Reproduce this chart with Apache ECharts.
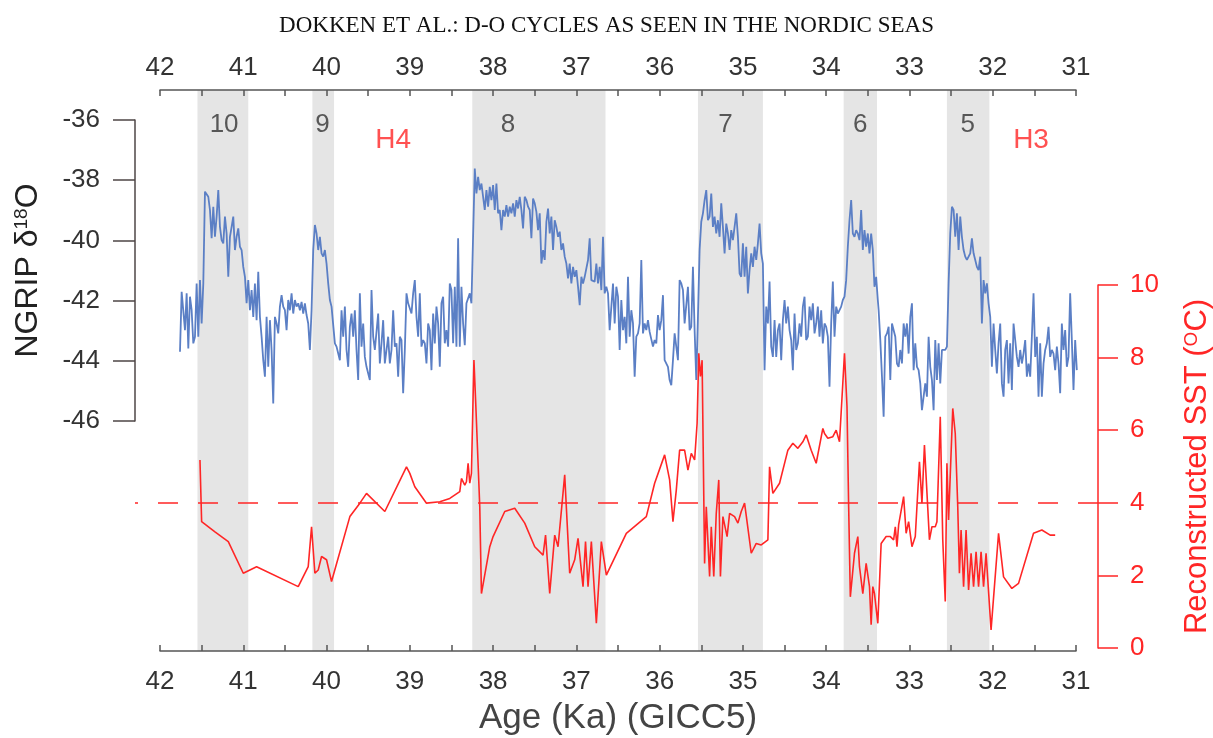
<!DOCTYPE html>
<html>
<head>
<meta charset="utf-8">
<script src="https://cdn.jsdelivr.net/npm/echarts@6/dist/echarts.min.js"></script>
<style>
  html, body { margin: 0; padding: 0; background: #fff; }
  #chart { width: 1213px; height: 738px; }
</style>
</head>
<body>
<div id="chart"></div>
<script>
// NGRIP d18O (age in ka, GICC5)
const ngripAge = [
  41.76,41.74,41.72,41.70,41.68,41.66,41.64,41.62,41.60,41.58,
  41.56,41.54,41.52,41.50,41.48,41.46,41.44,41.42,41.40,41.38,
  41.36,41.34,41.32,41.30,41.28,41.26,41.24,41.22,41.20,41.18,
  41.16,41.14,41.12,41.10,41.08,41.06,41.04,41.02,41.00,40.98,
  40.96,40.94,40.92,40.90,40.88,40.86,40.84,40.82,40.80,40.78,
  40.76,40.74,40.72,40.70,40.68,40.66,40.64,40.62,40.60,40.58,
  40.56,40.54,40.52,40.50,40.48,40.46,40.44,40.42,40.40,40.38,
  40.36,40.34,40.32,40.30,40.28,40.26,40.24,40.22,40.20,40.18,
  40.16,40.14,40.12,40.10,40.08,40.06,40.04,40.02,40.00,39.98,
  39.96,39.94,39.92,39.90,39.88,39.86,39.84,39.82,39.80,39.78,
  39.76,39.74,39.72,39.70,39.68,39.66,39.64,39.62,39.60,39.58,
  39.56,39.54,39.52,39.50,39.48,39.46,39.44,39.42,39.40,39.38,
  39.36,39.34,39.32,39.30,39.28,39.26,39.24,39.22,39.20,39.18,
  39.16,39.14,39.12,39.10,39.08,39.06,39.04,39.02,
  38.98,38.96,38.94,38.92,38.90,38.88,38.86,38.84,38.82,38.80,
  38.78,38.76,38.74,38.72,38.70,38.68,38.66,38.64,38.62,38.60,
  38.58,38.56,38.54,38.52,38.50,38.48,38.46,38.44,38.42,38.40,
  38.38,38.36,38.34,38.32,38.30,38.28,38.26,38.24,38.22,38.20,
  38.18,38.16,38.14,38.12,38.10,38.08,38.06,38.04,38.02,38.00,
  37.98,37.96,37.94,37.92,37.90,37.88,37.86,37.84,37.82,37.80,
  37.78,37.76,37.74,37.72,37.70,37.68,37.66,37.64,37.62,37.60,
  37.58,37.56,37.54,37.52,37.50,37.48,37.46,37.44,37.42,37.40,
  37.38,37.36,37.34,37.32,37.30,37.28,37.26,37.24,37.22,37.20,
  37.18,37.16,37.14,37.12,37.10,37.08,37.06,37.04,37.02,37.00,
  36.98,36.96,36.94,36.92,36.90,36.88,36.86,36.84,36.82,36.80,
  36.78,36.76,36.74,36.72,36.70,36.68,36.66,36.64,36.62,36.60,
  36.58,36.56,36.54,36.52,36.50,36.48,36.46,36.44,36.42,36.40,
  36.38,36.36,36.34,36.32,36.30,36.28,36.26,36.24,36.22,36.20,
  36.18,36.16,36.14,
  36.12,36.10,36.08,36.06,36.04,36.02,36.00,35.98,35.96,35.94,
  35.92,35.90,35.88,35.86,35.84,35.82,35.80,35.78,35.76,35.74,
  35.72,35.70,35.68,35.66,35.64,35.62,35.60,35.58,35.56,35.54,
  35.52,35.50,35.48,35.46,35.44,35.42,35.40,35.38,35.36,35.34,
  35.32,35.30,35.28,35.26,35.24,35.22,35.20,35.18,35.16,35.14,
  35.12,35.10,35.08,35.06,35.04,35.02,35.00,34.98,34.96,34.94,
  34.92,34.90,34.88,34.86,34.84,34.82,34.80,34.78,34.76,34.74,
  34.72,34.70,34.68,34.66,34.64,34.62,34.60,34.58,34.56,34.54,
  34.52,34.50,34.48,34.46,34.44,34.42,34.40,34.38,34.36,34.34,
  34.32,34.30,34.28,34.26,34.24,34.22,34.20,34.18,34.16,34.14,
  34.12,34.10,34.08,34.06,34.04,34.02,34.00,33.98,33.96,33.94,
  33.92,33.90,33.88,33.86,33.84,33.82,33.80,33.78,33.76,33.74,
  33.72,33.70,33.68,33.66,33.64,33.62,33.60,33.58,33.56,33.54,
  33.52,33.50,33.48,33.46,33.44,33.42,33.40,33.38,
  33.37,33.35,33.33,33.31,33.29,33.27,33.25,33.23,33.21,33.19,
  33.17,33.15,33.13,33.11,33.09,33.07,33.05,33.03,33.01,32.99,
  32.97,32.95,32.93,32.91,32.89,32.87,32.85,32.83,32.81,32.79,
  32.77,32.75,32.73,32.71,32.69,32.67,32.65,32.63,32.61,32.59,
  32.57,32.55,32.53,32.51,32.49,32.47,32.45,32.43,32.41,32.39,
  32.37,32.35,32.33,32.31,32.29,32.27,32.25,32.23,32.21,32.19,
  32.17,32.15,32.13,32.11,32.09,32.07,32.05,32.03,32.01,31.99,
  31.97,31.95,31.93,31.91,31.89,31.87,31.85,31.83,31.81,31.79,
  31.77,31.75,31.73,31.71,31.69,31.67,31.65,31.63,31.61,31.59,
  31.57,31.55,31.53,31.51,31.49,31.47,31.45,31.43,31.41,31.39,
  31.37,31.35,31.33,31.31,31.29,31.27,31.25,31.23,31.21,31.19,
  31.17,31.15,31.13,31.11,31.09,31.07,31.05,31.03,31.01,30.99
];
const ngripD18O = [
  -43.70,-41.71,-41.71,-42.98,-41.76,-43.59,-41.87,-42.32,-43.42,-43.20,
  -41.43,-43.20,-41.32,-42.76,-41.43,-38.38,-38.44,-38.55,-38.99,-39.93,
  -38.88,-39.88,-39.21,-38.33,-39.55,-39.99,-40.10,-39.21,-39.77,-41.21,
  -39.88,-39.55,-39.21,-40.32,-39.88,-39.60,-40.21,-40.32,-40.88,-41.21,
  -42.09,-41.32,-42.32,-41.65,-42.54,-41.43,-42.65,-41.04,-42.54,-43.20,
  -43.98,-44.53,-42.54,-44.20,-42.65,-43.64,-45.42,-42.54,-42.76,-43.09,
  -42.20,-41.82,-42.20,-42.32,-42.98,-41.98,-42.32,-41.76,-42.43,-41.98,
  -42.20,-42.09,-42.32,-42.04,-42.43,-42.09,-42.48,-42.76,-43.64,-42.32,
  -40.32,-39.49,-39.77,-40.32,-39.88,-40.43,-40.54,-40.32,-40.77,-41.43,
  -41.98,-42.20,-42.20,-43.42,-43.53,-43.53,-43.98,-42.32,-43.20,-42.20,
  -43.64,-44.20,-42.87,-42.43,-43.20,-42.32,-43.64,-44.64,-41.76,-43.53,
  -42.76,-43.87,-44.20,-44.20,-44.64,-41.65,-43.20,-43.64,-43.64,-42.43,
  -44.09,-43.42,-42.65,-44.09,-44.14,-43.20,-44.09,-43.64,-42.32,-43.53,
  -43.42,-44.53,-43.20,-43.31,-45.08,-43.64,-41.76,-42.09,
  -42.43,-41.76,-41.32,-42.54,-43.20,-41.76,-43.53,-43.31,-43.42,-44.09,
  -42.76,-42.98,-44.31,-42.43,-43.42,-42.20,-42.76,-44.20,-42.09,-41.87,
  -43.42,-42.98,-43.53,-41.43,-41.65,-43.42,-41.54,-43.53,-39.93,-43.53,
  -41.54,-42.76,-43.48,-42.09,-42.09,-41.76,-42.09,-42.09,-37.61,-38.44,
  -37.89,-38.33,-38.11,-38.55,-38.99,-38.33,-38.88,-38.22,-38.66,-38.16,
  -38.99,-38.11,-39.10,-38.99,-39.66,-38.99,-39.21,-38.83,-39.21,-38.88,
  -39.10,-38.77,-39.21,-38.66,-38.94,-38.55,-38.99,-39.60,-38.55,-38.66,
  -38.88,-38.99,-39.93,-38.61,-38.77,-39.05,-39.66,-39.10,-40.77,-40.32,
  -40.65,-39.38,-38.94,-39.77,-39.21,-40.32,-39.33,-39.55,-39.88,-39.71,
  -40.32,-40.10,-40.54,-40.77,-41.26,-40.77,-41.43,-40.88,-41.21,-40.99,
  -41.54,-42.15,-41.21,-41.43,-41.21,-41.21,-40.65,-39.93,-41.32,-41.32,
  -41.37,-40.77,-41.43,-40.88,-41.65,-39.88,-41.76,-41.54,-41.76,-42.98,
  -43.04,-41.43,-42.76,-41.54,-41.87,-43.64,-41.98,-42.98,-42.54,-43.42,
  -41.21,-43.20,-42.32,-42.76,-44.53,-43.20,-43.09,-42.76,-40.65,-43.09,
  -42.76,-42.98,-42.65,
  -43.04,-43.09,-43.53,-43.31,-43.42,-42.48,-42.98,-42.65,-41.82,-43.98,
  -43.98,-44.20,-44.64,-44.81,-43.98,-43.09,-43.04,-43.98,-41.32,-41.43,
  -41.65,-42.76,-42.76,-41.54,-42.98,-42.87,-40.88,-42.98,-44.64,-42.54,
  -40.32,-39.38,-39.10,-38.66,-38.33,-39.33,-39.21,-38.44,-39.55,-39.21,
  -39.77,-39.33,-39.88,-38.77,-39.55,-40.43,-39.44,-39.77,-40.32,-39.66,
  -39.99,-39.55,-39.10,-39.88,-41.10,-41.21,-40.10,-41.21,-40.21,-41.76,
  -40.99,-40.43,-40.88,-40.21,-40.65,-40.10,-39.44,-40.43,-40.77,-44.31,
  -42.20,-42.76,-41.37,-43.53,-43.87,-42.65,-43.87,-42.98,-42.76,-43.98,
  -42.65,-41.98,-42.76,-42.20,-42.98,-43.31,-44.31,-42.43,-43.64,-43.42,
  -42.76,-43.20,-42.20,-41.87,-43.31,-43.20,-42.20,-42.65,-42.09,-43.09,
  -42.76,-42.20,-43.20,-42.32,-43.42,-42.76,-42.87,-43.20,-44.86,-42.76,
  -41.37,-43.20,-42.20,-42.43,-42.37,-42.20,-41.98,-41.87,-41.32,-40.21,
  -39.33,-38.66,-39.77,-39.88,-39.66,-39.77,-39.99,-38.99,-40.32,-39.66,
  -40.21,-39.77,-40.43,-39.77,-40.32,-41.54,-41.21,-41.98,
  -42.32,-43.31,-44.53,-45.86,-43.20,-43.09,-42.87,-44.64,-42.76,-42.70,
  -43.20,-44.09,-44.20,-43.64,-44.09,-42.76,-43.20,-42.76,-43.76,-42.54,
  -42.09,-44.31,-43.42,-44.20,-44.31,-44.75,-45.64,-45.19,-44.75,-45.19,
  -43.20,-44.20,-44.64,-45.64,-43.31,-44.64,-43.42,-44.75,-43.64,-43.64,
  -43.64,-43.53,-41.43,-39.77,-38.88,-38.99,-39.88,-39.10,-40.32,-39.21,
  -39.88,-40.32,-40.54,-40.65,-40.54,-40.43,-39.93,-40.43,-40.65,-40.88,
  -40.99,-40.54,-42.76,-41.32,-41.76,-41.43,-42.09,-42.54,-44.20,-42.76,
  -43.64,-44.42,-43.42,-42.76,-44.75,-45.19,-43.64,-43.31,-44.75,-43.42,
  -44.97,-42.76,-43.31,-43.87,-44.20,-43.64,-44.09,-43.76,-43.31,-44.53,
  -44.09,-44.53,-43.20,-41.76,-43.87,-43.20,-45.19,-43.42,-45.19,-44.09,
  -43.64,-43.42,-42.87,-43.87,-43.64,-43.76,-44.31,-43.53,-44.09,-45.08,
  -42.76,-43.64,-42.98,-44.20,-43.87,-41.76,-43.31,-44.97,-43.31,-44.31
];

// Reconstructed SST (degC)
const sstAge = [
  41.52,41.50,41.34,41.18,41.00,40.84,40.34,40.22,40.18,40.14,
  40.10,40.06,40.00,39.94,39.72,39.60,39.52,39.30,39.04,39.00,
  38.94,38.80,38.64,38.52,38.40,38.38,38.34,38.32,38.30,38.28,
  38.26,38.24,38.23,38.21,38.16,38.14,38.04,38.00,37.86,37.74,
  37.62,37.50,37.40,37.37,37.32,37.26,37.22,37.14,37.08,37.02,
  36.98,36.92,36.89,36.86,36.82,36.76,36.70,36.64,36.40,36.16,
  36.06,35.94,35.88,35.84,35.80,35.76,35.70,35.66,35.62,35.58,
  35.55,35.53,35.51,35.49,35.46,35.44,35.40,35.38,35.35,35.32,
  35.29,35.27,35.24,35.19,35.16,35.10,35.06,35.02,34.98,34.90,
  34.84,34.78,34.70,34.68,34.64,34.56,34.46,34.40,34.34,34.28,
  34.24,34.18,34.12,34.04,34.02,33.98,33.92,33.88,33.84,33.78,
  33.75,33.73,33.71,33.66,33.62,33.60,33.56,33.52,33.48,33.46,
  33.44,33.42,33.38,33.34,33.28,
  33.23,33.19,33.17,33.15,33.13,33.07,33.04,33.01,32.97,32.93,
  32.88,32.85,32.82,32.76,32.73,32.69,32.67,32.63,32.60,32.57,
  32.55,32.53,32.48,32.45,32.42,32.40,32.38,32.35,32.32,32.29,
  32.26,32.23,32.20,32.17,32.14,32.11,32.08,32.02,31.93,31.87,
  31.77,31.69,31.51,31.41,31.31,31.25
];
const sstValue = [
  5.18,3.48,3.20,2.93,2.06,2.24,1.69,2.24,3.34,2.06,
  2.15,2.52,2.43,1.83,3.62,3.99,4.26,3.76,4.99,4.81,
  4.44,3.99,4.03,4.12,4.31,4.67,4.49,4.58,5.09,4.54,
  4.81,6.92,7.93,6.83,3.89,1.50,2.79,3.07,3.76,3.85,
  3.44,2.79,2.56,3.11,1.50,3.11,2.79,4.77,2.06,2.43,
  3.02,1.69,2.93,1.69,2.93,0.68,2.93,2.01,3.16,3.62,
  4.54,5.32,4.63,3.48,4.35,5.45,5.45,4.90,5.36,5.18,
  6.19,8.12,7.48,7.93,2.33,3.89,1.97,3.34,1.97,3.71,
  4.63,1.97,3.62,3.07,3.71,3.62,3.44,3.76,3.99,2.61,
  2.88,2.84,2.98,4.99,4.26,4.54,5.45,5.64,5.50,5.68,
  5.87,5.45,5.09,6.05,5.91,5.78,5.82,6.00,5.68,8.12,
  6.65,3.89,1.41,2.61,3.07,2.24,1.50,2.33,1.69,0.64,
  1.69,1.50,0.68,2.88,3.07,
  3.07,2.98,3.34,2.79,3.39,4.17,3.16,3.48,2.79,3.07,
  5.13,3.99,5.59,2.98,3.34,3.34,3.48,6.37,2.98,1.28,
  5.09,3.53,6.60,5.91,3.89,2.06,3.25,1.69,3.25,1.60,
  2.61,1.69,2.65,1.69,2.65,1.69,2.61,0.50,3.16,1.96,
  1.64,1.78,3.16,3.25,3.11,3.11
];
const sstThreshold = 4;

// interstadials (grey bands) and labels
const bandStart = [41.55, 40.17, 38.25, 35.54, 33.79, 32.55];
const bandEnd   = [40.94, 39.91, 36.65, 34.76, 33.39, 32.04];
const bandName  = ['10', '9', '8', '7', '6', '5'];
const bandNameAge = [41.23, 40.05, 37.82, 35.21, 33.59, 32.30];
const heinrichName = ['H4', 'H3'];
const heinrichAge  = [39.20, 31.54];

const FONT = 'Liberation Sans, Arial, Helvetica, sans-serif';
const BLUE = '#5b7fc5';
const RED = '#ff2626';
const AXIS = '#4e4646';

var chartDom = document.getElementById('chart');
var myChart = echarts.init(chartDom, null, { renderer: 'canvas' });

// pixel span of the inner charts reaches past the frame axes (42..31)
const pxPerKa = 916 / 11;
const innerMax = 42 + 25 / pxPerKa;
const innerMin = 31 - 22 / pxPerKa;

const frameAxis = function (pos) {
  return {
    gridIndex: 0, type: 'value', position: pos, min: 31, max: 42, interval: 1, inverse: true,
    z: 10,
    axisLine: { show: true, onZero: false, lineStyle: { color: '#555', width: 1.5 } },
    axisTick: { show: true, inside: true, length: 6, lineStyle: { color: '#555', width: 1.5 } },
    minorTick: { show: true, splitNumber: 2, length: 6, lineStyle: { color: '#555', width: 1.5 } },
    axisLabel: { fontSize: 26, color: '#333', fontFamily: FONT, margin: pos === 'top' ? 9 : 18 },
    splitLine: { show: false }
  };
};

var bottomAxis = frameAxis('bottom');
bottomAxis.name = 'Age (Ka) (GICC5)';
bottomAxis.nameLocation = 'middle';
bottomAxis.nameGap = 50;
bottomAxis.nameTextStyle = { fontSize: 35, color: '#444', fontFamily: FONT };

var option = {
  animation: false,
  backgroundColor: '#fff',
  title: {
    text: 'DOKKEN ET AL.: D-O CYCLES AS SEEN IN THE NORDIC SEAS',
    left: 'center',
    top: 9,
    textStyle: { fontFamily: 'Liberation Serif, Times New Roman, serif', fontSize: 23, fontWeight: 'normal', color: '#111' }
  },
  grid: [
    { left: 160, right: 137, top: 90, bottom: 87, outerBoundsMode: 'none' },
    { left: 135, right: 115, top: 120, bottom: 317, outerBoundsMode: 'none' },
    { left: 135, right: 115, top: 285, bottom: 90, outerBoundsMode: 'none' }
  ],
  xAxis: [
    frameAxis('top'),
    bottomAxis,
    { gridIndex: 1, type: 'value', min: innerMin, max: innerMax, inverse: true, show: false, splitLine: { show: false } },
    { gridIndex: 2, type: 'value', min: innerMin, max: innerMax, inverse: true, show: false, splitLine: { show: false } }
  ],
  yAxis: [
    { gridIndex: 0, type: 'value', min: 0, max: 1, show: false, splitLine: { show: false } },
    {
      gridIndex: 1, type: 'value', position: 'left', min: -46, max: -36, interval: 2,
      z: 10,
      axisLine: { show: true, onZero: false, lineStyle: { color: AXIS, width: 1.5 } },
      axisTick: { show: true, length: 22, lineStyle: { color: AXIS, width: 1.5 } },
      axisLabel: { fontSize: 26, color: '#333', fontFamily: FONT, margin: 35 },
      splitLine: { show: false },
      name: 'NGRIP δ{sup|18}O',
      nameLocation: 'middle',
      nameRotate: 90,
      nameGap: 91,
      nameTextStyle: {
        fontSize: 32, color: '#222', fontFamily: FONT,
        rich: { sup: { fontSize: 19, color: '#222', fontFamily: FONT, padding: [0, 0, 13, 0] } }
      }
    },
    {
      gridIndex: 2, type: 'value', position: 'right', min: 0, max: 10, interval: 2,
      z: 10,
      axisLine: { show: true, onZero: false, lineStyle: { color: RED, width: 1.5 } },
      axisTick: { show: true, length: 20, lineStyle: { color: RED, width: 1.5 } },
      axisLabel: { fontSize: 26, color: RED, fontFamily: FONT, margin: 32 },
      splitLine: { show: false },
      name: 'Reconstructed SST ({sup|O}C)',
      nameLocation: 'middle',
      nameRotate: 90,
      nameGap: 84,
      nameTextStyle: {
        fontSize: 31, color: RED, fontFamily: FONT,
        rich: { sup: { fontSize: 19, color: RED, fontFamily: FONT, padding: [0, 0, 12, 0] } }
      }
    }
  ],
  series: [
    {
      name: 'bands',
      type: 'line',
      xAxisIndex: 0,
      yAxisIndex: 0,
      data: [],
      z: 0,
      silent: true,
      markArea: {
        silent: true,
        itemStyle: { color: '#e5e5e5' },
        data: bandStart.map(function (s, i) { return [{ xAxis: s }, { xAxis: bandEnd[i] }]; })
      }
    },
    {
      name: 'NGRIP',
      type: 'line',
      xAxisIndex: 2,
      yAxisIndex: 1,
      showSymbol: false,
      z: 3,
      lineStyle: { color: BLUE, width: 1.8 },
      itemStyle: { color: BLUE },
      data: ngripAge.map(function (a, i) { return [a, ngripD18O[i]]; })
    },
    {
      name: 'SST',
      type: 'line',
      xAxisIndex: 3,
      yAxisIndex: 2,
      showSymbol: false,
      z: 3,
      lineStyle: { color: RED, width: 1.6 },
      itemStyle: { color: RED },
      data: sstAge.map(function (a, i) { return [a, sstValue[i]]; }),
      markLine: {
        silent: true,
        symbol: ['none', 'none'],
        label: { show: false },
        lineStyle: { color: RED, width: 1.6, type: [20, 20] },
        data: [{ yAxis: sstThreshold }]
      }
    },
    {
      name: 'labels',
      type: 'scatter',
      xAxisIndex: 2,
      yAxisIndex: 1,
      symbolSize: 0,
      clip: false,
      z: 5,
      silent: true,
      label: { show: true, position: 'inside', formatter: '{b}', fontFamily: FONT },
      data: bandName.map(function (n, i) {
        return { name: n, value: [bandNameAge[i], -36.17], label: { fontSize: 26, color: '#333' } };
      }).concat(heinrichName.map(function (n, i) {
        return { name: n, value: [heinrichAge[i], -36.66], label: { fontSize: 28, color: RED } };
      }))
    }
  ]
};

myChart.setOption(option);
</script>
</body>
</html>
